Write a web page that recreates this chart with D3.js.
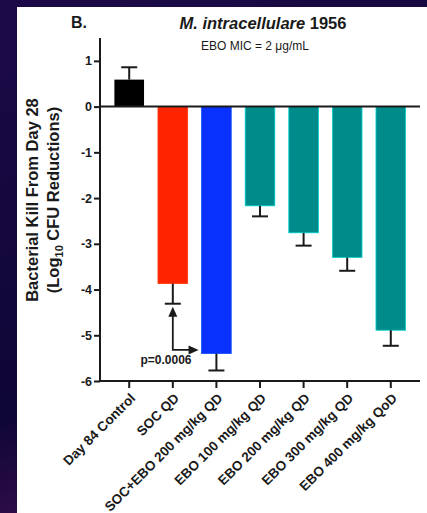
<!DOCTYPE html>
<html>
<head>
<meta charset="utf-8">
<script src="https://cdn.jsdelivr.net/npm/d3@7"></script>
<style>
  html, body { margin: 0; padding: 0; background: #160a3c; }
  svg { display: block; }
  text { font-family: "Liberation Sans", Arial, sans-serif; }
</style>
</head>
<body>
<script>
// Treatment groups and mean log10 CFU change from day 28 (with SEM)
const categories = ["Day 84 Control", "SOC QD", "SOC+EBO 200 mg/kg QD", "EBO 100 mg/kg QD",
                    "EBO 200 mg/kg QD", "EBO 300 mg/kg QD", "EBO 400 mg/kg QoD"];
const values = [0.59, -3.87, -5.40, -2.17, -2.76, -3.30, -4.89];
const errors = [0.27, 0.44, 0.37, 0.23, 0.28, 0.29, 0.34];
const colors = ["#000000", "#ff2400", "#0a32ff", "#008b8b", "#008b8b", "#008b8b", "#008b8b"];
const yTicks = [1, 0, -1, -2, -3, -4, -5, -6];
const pLabel = "p=0.0006";

const W = 427, H = 513;
const svg = d3.select("body").append("svg").attr("width", W).attr("height", H);

// backdrop
const defs = svg.append("defs");
const g0 = defs.append("linearGradient").attr("id", "bg")
  .attr("x1", 0).attr("y1", 0).attr("x2", 0.3).attr("y2", 1);
g0.append("stop").attr("offset", "0%").attr("stop-color", "#1c0a48");
g0.append("stop").attr("offset", "75%").attr("stop-color", "#0e0635");
g0.append("stop").attr("offset", "100%").attr("stop-color", "#3a0e4e");
svg.append("rect").attr("width", W).attr("height", H).attr("fill", "url(#bg)");
svg.append("rect").attr("x", 17).attr("y", 7).attr("width", W - 17).attr("height", H - 7).attr("fill", "#ffffff");

const x = d3.scaleBand().domain(categories).range([100, 420]).paddingInner(0.32).paddingOuter(0.33);
const y = d3.scaleLinear().domain([-6, 1.5]).range([381, 38]);

const ink = "#1a1a1a";

// bars
svg.append("g").selectAll("rect").data(values).join("rect")
  .attr("x", (d, i) => x(categories[i]))
  .attr("width", x.bandwidth())
  .attr("y", d => y(Math.max(0, d)))
  .attr("height", d => Math.abs(y(d) - y(0)))
  .attr("fill", (d, i) => colors[i])
  .attr("stroke", (d, i) => i === 0 ? "none" : d3.color(colors[i]).brighter(1.2))
  .attr("stroke-width", 0.8);

// error bars (one direction, away from zero)
const eb = svg.append("g").attr("stroke", ink).attr("stroke-width", 2);
values.forEach((v, i) => {
  const cx = x(categories[i]) + x.bandwidth() / 2;
  const end = v >= 0 ? v + errors[i] : v - errors[i];
  eb.append("line").attr("x1", cx).attr("x2", cx).attr("y1", y(v)).attr("y2", y(end));
  eb.append("line").attr("x1", cx - 8).attr("x2", cx + 8).attr("y1", y(end)).attr("y2", y(end));
});

// zero line
svg.append("line").attr("x1", 100).attr("x2", 420).attr("y1", y(0)).attr("y2", y(0))
  .attr("stroke", ink).attr("stroke-width", 2);

// y axis
const yAxis = svg.append("g").attr("transform", "translate(100,0)")
  .call(d3.axisLeft(y).tickValues(yTicks).tickSize(6).tickPadding(2).tickFormat(d3.format("d")));
yAxis.select(".domain").attr("stroke", ink).attr("stroke-width", 2).attr("d", `M0,${y(1.5)}V${y(-6)}`);
yAxis.selectAll(".tick line").attr("stroke", ink).attr("stroke-width", 2);
yAxis.selectAll(".tick text").attr("fill", ink).attr("font-size", 12.5).attr("font-weight", "bold")
  .text(d => d < 0 ? "-" + Math.abs(d) : d);

// x axis at bottom
const xAxis = svg.append("g").attr("transform", `translate(0,${y(-6)})`)
  .call(d3.axisBottom(x).tickSize(7).tickSizeOuter(0));
xAxis.select(".domain").attr("stroke", ink).attr("stroke-width", 2).attr("d", "M100,0H420");
xAxis.selectAll(".tick line").attr("stroke", ink).attr("stroke-width", 2);
xAxis.selectAll(".tick text")
  .attr("fill", ink).attr("font-size", 13.5).attr("font-weight", "bold")
  .attr("text-anchor", "end").attr("x", 0).attr("y", 0).attr("dy", 0)
  .attr("transform", "translate(7,18) rotate(-45)");

// y axis title
const yt = svg.append("text").attr("transform", "translate(0,200) rotate(-90)")
  .attr("text-anchor", "middle").attr("font-size", 16.5).attr("font-weight", "bold").attr("fill", ink);
yt.append("tspan").attr("x", 0).attr("y", 38).text("Bacterial Kill From Day 28");
const l2 = yt.append("tspan").attr("x", 0).attr("y", 59);
l2.append("tspan").text("(Log");
l2.append("tspan").attr("font-size", 11).attr("dy", 4).text("10");
l2.append("tspan").attr("dy", -4).text(" CFU Reductions)");

// panel letter and titles
svg.append("text").attr("x", 71).attr("y", 28).attr("font-size", 16).attr("font-weight", "bold")
  .attr("fill", ink).text("B.");
const t = svg.append("text").attr("x", 263).attr("y", 29).attr("text-anchor", "middle")
  .attr("font-size", 16.5).attr("font-weight", "bold").attr("fill", ink);
t.append("tspan").attr("font-style", "italic").text("M. intracellulare");
t.append("tspan").text(" 1956");
svg.append("text").attr("x", 255).attr("y", 50).attr("text-anchor", "middle")
  .attr("font-size", 12).attr("fill", ink).text("EBO MIC = 2 μg/mL");

// significance annotation between SOC and SOC+EBO
const c1 = x(categories[1]) + x.bandwidth() / 2;
const xb = x(categories[2]);
const yTop = y(values[1] - errors[1]) + 3;
const yBend = y(-5.32);
const ann = svg.append("g");
ann.append("path")
  .attr("d", `M${c1},${yTop + 9}V${yBend}H${xb - 11}`)
  .attr("fill", "none").attr("stroke", ink).attr("stroke-width", 1.8);
ann.append("path").attr("d", `M${c1},${yTop} l-4.5,10 h9 z`).attr("fill", ink);
ann.append("path").attr("d", `M${xb - 3},${yBend} l-10,-4.5 v9 z`).attr("fill", ink);
ann.append("text").attr("x", 166).attr("y", 364).attr("text-anchor", "middle")
  .attr("font-size", 12).attr("font-weight", "bold").attr("fill", ink).text(pLabel);
</script>
</body>
</html>
